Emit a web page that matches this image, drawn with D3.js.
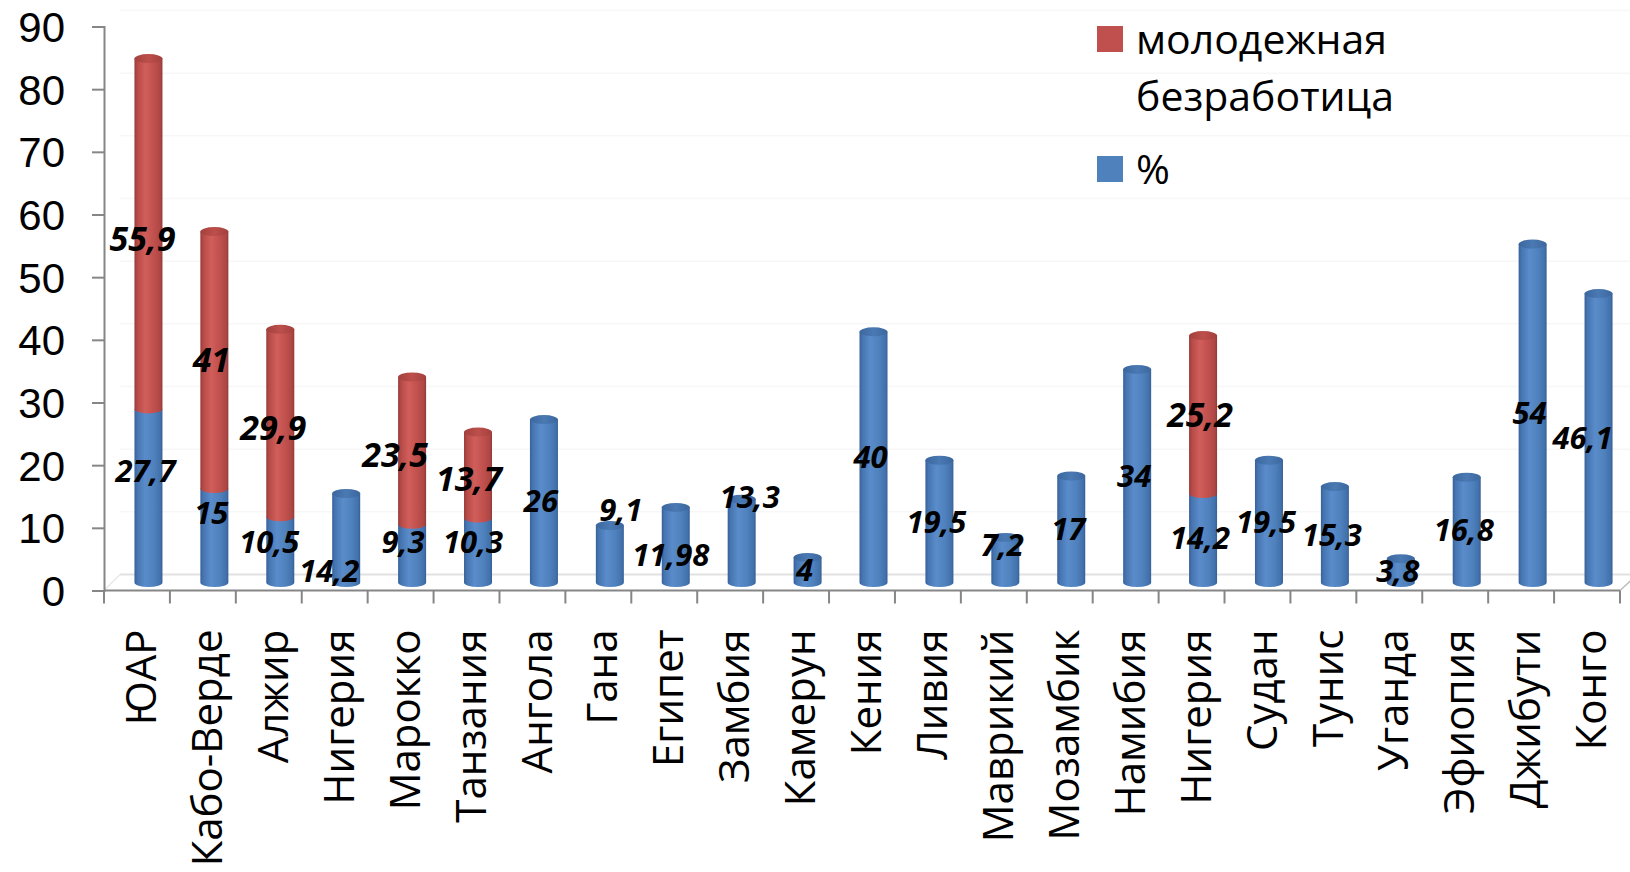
<!DOCTYPE html>
<html><head><meta charset="utf-8">
<script src="https://cdn.jsdelivr.net/npm/d3@7"></script>
<style>
html,body{margin:0;padding:0;background:#fff;}
svg{display:block;font-family:"Open Sans",sans-serif;}
</style></head>
<body><svg id="c" width="1630" height="872"></svg>
<script>
// ---- data ----
const categories = ["ЮАР","Кабо-Верде","Алжир","Нигерия","Марокко","Танзания","Ангола","Гана","Египет","Замбия","Камерун","Кения","Ливия","Маврикий","Мозамбик","Намибия","Нигерия","Судан","Тунис","Уганда","Эфиопия","Джибути","Конго"];
const unemployment = [27.7,15,10.5,14.2,9.3,10.3,26,9.1,11.98,13.3,4,40,19.5,7.2,17,34,14.2,19.5,15.3,3.8,16.8,54,46.1];
const youthUnemployment = [55.9,41,29.9,null,23.5,13.7,null,null,null,null,null,null,null,null,null,null,25.2,null,null,null,null,null,null];
const seriesNames = ["молодежная", "безработица", "%"];
const yTicks = [0,10,20,30,40,50,60,70,80,90];

// ---- layout (manual label nudges, px: [dx, dy]) ----
const labelNudge = {
  "0b":[0,-25], "0r":[-3,5], "1b":[0,-23], "2b":[-8,-8], "2r":[-4,5],
  "3b":[-14,33], "4b":[-6,-12], "4r":[-14,4], "5b":[-2,-8], "5r":[-6,4],
  "7b":[14,-44], "8b":[-2,10], "9b":[11,-44], "13b":[0,-15], "22b":[-13,0]
};

const svg = d3.select("#c");
const idx = d3.range(categories.length);
const x = d3.scaleBand().domain(idx).range([104,1620]).padding(0);
const yAxisScale = d3.scaleLinear().domain([0,90]).range([590.5,26.5]);
const yBar = d3.scaleLinear().domain([0,90]).range([582.5,18.5]);
const yBack = d3.scaleLinear().domain([0,90]).range([574.5,10.5]);
const barShift = 11.5, barW = 28, rx = barW/2, ry = 4.5;

// gradients
const defs = svg.append("defs");
function grad(id, stops){
  const g = defs.append("linearGradient").attr("id",id).attr("x1","0").attr("x2","1").attr("y1","0").attr("y2","0");
  stops.forEach(s=>g.append("stop").attr("offset",s[0]).attr("stop-color",s[1]));
}
grad("gBlue",[["0%","#37609a"],["10%","#4675b0"],["38%","#5a8ccb"],["70%","#4f81bd"],["92%","#4272ac"],["100%","#375f95"]]);
grad("gRed",[["0%","#953a37"],["10%","#b64a47"],["38%","#d15e5a"],["70%","#c0504d"],["92%","#ad4744"],["100%","#923936"]]);
grad("gBlueCap",[["0%","#3c679e"],["50%","#4a79b3"],["100%","#3c679e"]]);
grad("gRedCap",[["0%","#a2403d"],["50%","#bd4f4b"],["100%","#a2403d"]]);

// back wall gridlines
svg.append("g").selectAll("line").data(yTicks).join("line")
  .attr("x1",120).attr("x2",1630)
  .attr("y1",d=>yBack(d)).attr("y2",d=>yBack(d))
  .attr("stroke",d=>d===0?"#e2e2e2":"#f7f7f7").attr("stroke-width",d=>d===0?2:1.5);
// floor side diagonals
svg.append("line").attr("x1",104).attr("y1",yAxisScale(0)).attr("x2",120).attr("y2",yBack(0)).attr("stroke","#e8e8e8").attr("stroke-width",1.5);
svg.append("line").attr("x1",1620).attr("y1",yAxisScale(0)).attr("x2",1632).attr("y2",yBack(0)+5).attr("stroke","#bcbcbc").attr("stroke-width",1.5);

// axes
const yAxisG = svg.append("g").attr("transform","translate(104,0)")
  .call(d3.axisLeft(yAxisScale).tickValues(yTicks).tickSize(12).tickPadding(27).tickFormat(d3.format("d")));
yAxisG.select(".domain").attr("stroke","#868686").attr("stroke-width",2);
yAxisG.selectAll(".tick line").attr("stroke","#868686").attr("stroke-width",2);
yAxisG.selectAll(".tick text").attr("font-family","Liberation Sans").attr("font-size",42).attr("fill","#000").attr("dy","0.36em");

const xAxisG = svg.append("g").attr("transform",`translate(0,${yAxisScale(0)})`);
xAxisG.append("line").attr("x1",104).attr("x2",1620).attr("stroke","#868686").attr("stroke-width",2);
xAxisG.selectAll("line.t").data(d3.range(categories.length+1)).join("line").attr("class","t")
  .attr("x1",i=>104+i*x.bandwidth()).attr("x2",i=>104+i*x.bandwidth())
  .attr("y1",0).attr("y2",13).attr("stroke","#868686").attr("stroke-width",2);
xAxisG.selectAll("text").data(idx).join("text")
  .attr("transform",i=>`translate(${x(i)+x.bandwidth()/2+4},39) rotate(-90)`)
  .attr("text-anchor","end").attr("dy","0.36em")
  .attr("font-size",42).attr("fill","#000")
  .text(i=>categories[i]);

// cylinders
const segs = [];
idx.forEach(i=>{
  const b = unemployment[i], r = youthUnemployment[i];
  segs.push({i, key:i+"b", y0:0, y1:b, v:b, fill:"url(#gBlue)", cap:"url(#gBlueCap)", top: r==null});
  if(r!=null) segs.push({i, key:i+"r", y0:b, y1:b+r, v:r, fill:"url(#gRed)", cap:"url(#gRedCap)", top:true});
});
const bars = svg.append("g");
segs.forEach(s=>{
  const cx = x(s.i)+x.bandwidth()/2+barShift;
  const l = cx-rx, rr = cx+rx, yt = yBar(s.y1), yb = yBar(s.y0);
  bars.append("path")
    .attr("d",`M${l},${yt} L${l},${yb} A${rx},${ry} 0 0 0 ${rr},${yb} L${rr},${yt} Z`)
    .attr("fill",s.fill);
  if(s.top){
    bars.append("ellipse").attr("cx",cx).attr("cy",yt).attr("rx",rx).attr("ry",ry).attr("fill",s.cap);
  }
});

// data labels
const fmt = v => String(v).replace(".",",");
svg.append("g").selectAll("text").data(segs).join("text")
  .attr("x",s=>x(s.i)+x.bandwidth()/2+barShift-3+(labelNudge[s.key]?labelNudge[s.key][0]:0))
  .attr("y",s=>yBar((s.y0+s.y1)/2)+(labelNudge[s.key]?labelNudge[s.key][1]:0))
  .attr("text-anchor","middle").attr("dy","0.36em")
  .attr("font-size",s=>s.key.endsWith("r")?34:31).attr("font-weight",700).attr("font-style","italic")
  .attr("fill","#000")
  .text(s=>fmt(s.v));

// legend
const lg = svg.append("g");
lg.append("rect").attr("x",1097).attr("y",26).attr("width",26).attr("height",26).attr("fill","#c0504d");
lg.append("rect").attr("x",1097).attr("y",156).attr("width",26).attr("height",26).attr("fill","#4f81bd");
lg.append("text").attr("x",1136).attr("y",54).attr("font-size",41).text(seriesNames[0]);
lg.append("text").attr("x",1136).attr("y",111).attr("font-size",41).text(seriesNames[1]);
lg.append("text").attr("x",1136).attr("y",184).attr("font-size",41).text(seriesNames[2]);
</script></body></html>
